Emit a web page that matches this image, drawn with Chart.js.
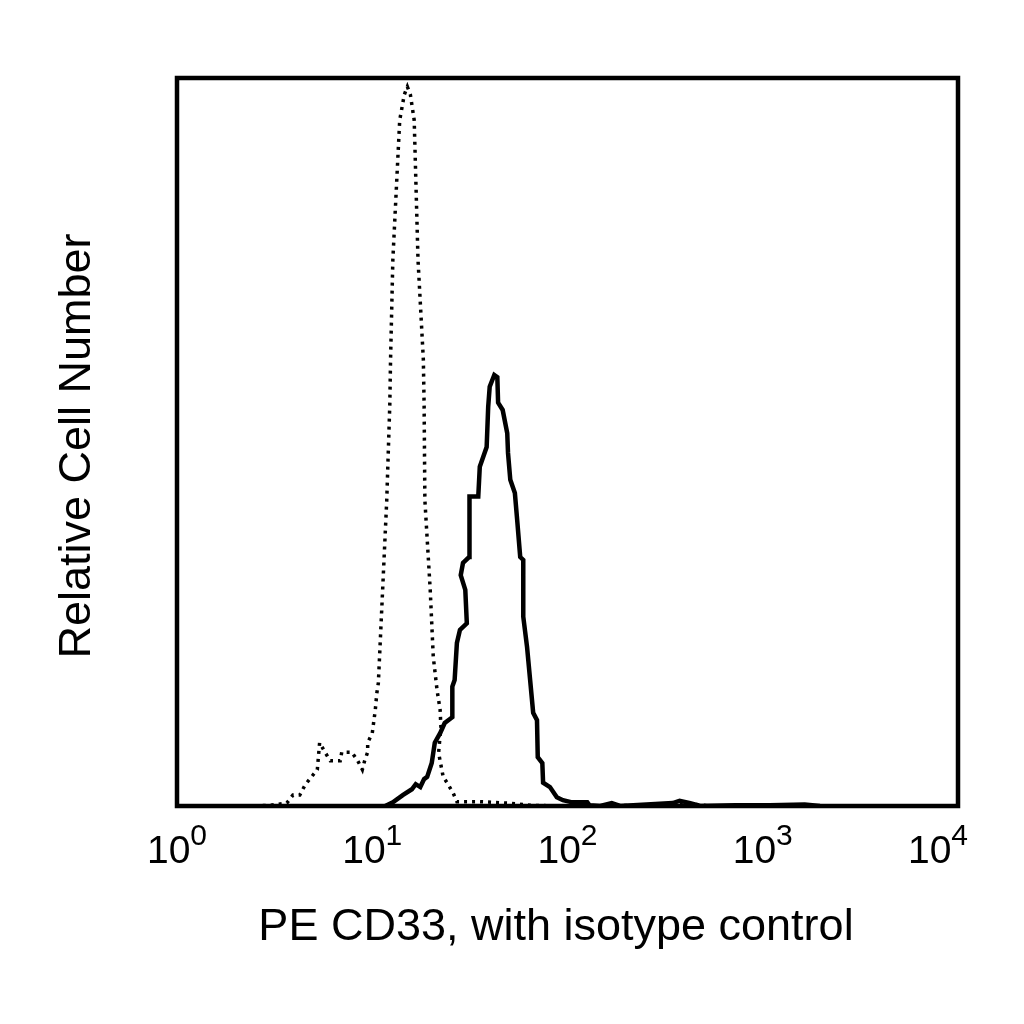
<!DOCTYPE html>
<html>
<head>
<meta charset="utf-8">
<script src="https://cdn.jsdelivr.net/npm/chart.js@4.4.1/dist/chart.umd.min.js"></script>
<style>
    html, body { margin: 0; padding: 0; background: #fff; }
    canvas { display: block; }
</style>
</head>
<body>
<canvas id="histChart" width="1024" height="1024"></canvas>
<script>
// Histogram channels (1024 channels over 4 decades) and relative counts
const cd33Channels = [273, 283, 296, 308, 313, 319, 324, 328, 334, 338, 345, 351, 361, 361, 364, 367, 371, 380, 378, 372,
    375, 383, 383, 384, 395, 397, 406, 408, 410, 416, 420, 421, 427, 433, 434, 437, 443, 446, 450, 454,
    454, 459, 463, 467, 472, 473, 479, 480, 489, 498, 506, 518, 538, 541, 555, 570, 581, 650, 659, 673,
    686, 732, 777, 823, 843];
const cd33Counts = [0, 0.5, 1.5, 2.3, 3.0, 2.6, 3.7, 4.0, 5.9, 8.7, 10.0, 11.4, 12.2, 16.4, 17.3, 22.4, 24.2, 25.1, 29.7, 31.7,
    33.4, 34.2, 40.7, 42.5, 42.5, 46.6, 49.3, 54.8, 57.6, 59.2, 58.9, 55.4, 54.4, 51.2, 48.5, 44.8, 43.0, 39.3, 34.2, 33.8,
    26.0, 21.8, 17.3, 12.8, 11.8, 6.7, 5.9, 3.2, 2.6, 1.2, 0.8, 0.5, 0.5, 0.1, 0, 0.4, 0, 0.4, 0.7, 0.4,
    0, 0.1, 0.1, 0.2, 0];

const isoChannels = [102, 122, 144, 152, 161, 168, 174, 184, 187, 194, 201, 214, 216, 229, 237, 243, 246, 250, 250, 256,
    260, 262, 264, 269, 275, 279, 280, 283, 292, 298, 302, 306, 311, 316, 323, 324, 325, 332, 334, 336,
    341, 345, 346, 343, 349, 354, 362, 367, 397, 433, 463, 502, 646, 673, 699];
const isoCounts = [0, 0.1, 0.4, 1.5, 1.5, 2.9, 3.7, 5.0, 8.7, 7.4, 6.2, 6.2, 7.4, 7.4, 6.2, 5.0, 6.2, 7.4, 8.7, 10.0,
    13.2, 15.5, 16.9, 28.3, 42.0, 55.1, 61.3, 75.0, 94.2, 97.7, 98.8, 97.7, 94.2, 75.0, 61.3, 55.1, 42.0, 29.7, 25.1, 20.5,
    15.9, 13.2, 10.9, 7.3, 4.0, 3.2, 1.8, 0.6, 0.6, 0.4, 0.1, 0, 0.1, 0.3, 0];

// Axis labels
const tickValues = [1, 10, 100, 1000, 10000];
const tickExponents = ['0', '1', '2', '3', '4'];
const xTitle = 'PE CD33, with isotype control';
const yTitle = 'Relative Cell Number';

const CHANNELS_PER_DECADE = 256;
const toPoints = (channels, counts) => channels.map((ch, i) => ({
    x: Math.pow(10, ch / CHANNELS_PER_DECADE),
    y: counts[i]
}));

const FONT = '"Liberation Sans", Arial, Helvetica, sans-serif';

// Frame around the plot, log tick labels with superscripts, axis titles
const frameAndLabels = {
    id: 'frameAndLabels',
    afterDraw(chart) {
        const ctx = chart.ctx;
        const area = chart.chartArea;
        const xScale = chart.scales.x;

        ctx.save();
        ctx.strokeStyle = '#000';
        ctx.lineWidth = 4.5;
        ctx.strokeRect(area.left, area.top, area.right - area.left, area.bottom - area.top);

        ctx.fillStyle = '#000';
        ctx.textBaseline = 'alphabetic';
        ctx.textAlign = 'left';
        tickValues.forEach((val, i) => {
            const px = xScale.getPixelForValue(val);
            ctx.font = '39px ' + FONT;
            const baseW = ctx.measureText('10').width;
            ctx.font = '30px ' + FONT;
            const expW = ctx.measureText(tickExponents[i]).width;
            const total = baseW + expW;
            let left = px - total / 2;
            if (left + total > area.right + 10) left = area.right + 10 - total;
            ctx.font = '39px ' + FONT;
            ctx.fillText('10', left, 863);
            ctx.font = '30px ' + FONT;
            ctx.fillText(tickExponents[i], left + baseW, 845);
        });

        ctx.font = '45px ' + FONT;
        ctx.textAlign = 'center';
        ctx.fillText(xTitle, 556, 940);

        ctx.translate(90, 446);
        ctx.rotate(-Math.PI / 2);
        ctx.fillText(yTitle, 0, 0);
        ctx.restore();
    }
};

const ctx = document.getElementById('histChart').getContext('2d');
const histChart = new Chart(ctx, {
    type: 'line',
    data: {
        datasets: [
            {
                label: 'Isotype control',
                data: toPoints(isoChannels, isoCounts),
                borderColor: '#000',
                borderWidth: 3.5,
                borderDash: [3, 5],
                pointRadius: 0,
                fill: false,
                tension: 0
            },
            {
                label: 'PE CD33',
                data: toPoints(cd33Channels, cd33Counts),
                borderColor: '#000',
                borderWidth: 4.5,
                pointRadius: 0,
                fill: false,
                tension: 0
            }
        ]
    },
    options: {
        responsive: false,
        devicePixelRatio: 1,
        animation: false,
        layout: {
            padding: { left: 177, right: 66, top: 78, bottom: 218 }
        },
        scales: {
            x: {
                type: 'logarithmic',
                min: 1,
                max: 10000,
                display: false
            },
            y: {
                type: 'linear',
                min: 0,
                max: 100,
                display: false
            }
        },
        plugins: {
            legend: { display: false },
            tooltip: { enabled: false }
        }
    },
    plugins: [frameAndLabels]
});
</script>
</body>
</html>
